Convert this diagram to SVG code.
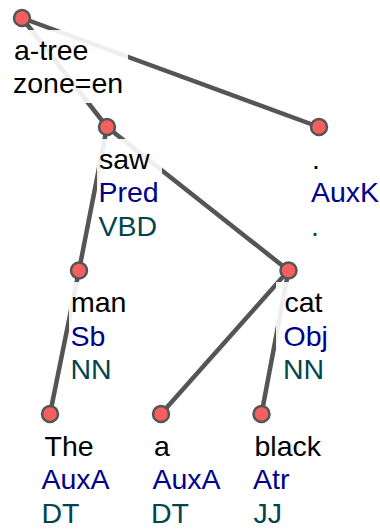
<svg xmlns="http://www.w3.org/2000/svg" width="380" height="529" viewBox="0 0 380 529">
<style>
.e{stroke:#555;stroke-width:4.5;stroke-linecap:round;fill:none}
.bg{fill:#fff;fill-opacity:0.9}
.n{fill:#f65f5f;stroke:#555;stroke-width:2.5}
text{font-family:"Liberation Sans",Arial,sans-serif;font-size:28.5px}
.f{fill:#000}
.a{fill:#00008b}
.t{fill:#00464f}
</style>
<rect width="380" height="529" fill="#fff"/>
<g id="connectors">
<line class="e" x1="22" y1="18" x2="107" y2="127"/>
<line class="e" x1="22" y1="18" x2="319" y2="127"/>
<line class="e" x1="107" y1="127" x2="79" y2="270.5"/>
<line class="e" x1="107" y1="127" x2="288.5" y2="270.5"/>
<line class="e" x1="79" y1="270.5" x2="50" y2="414"/>
<line class="e" x1="288.5" y1="270.5" x2="161" y2="414"/>
<line class="e" x1="288.5" y1="270.5" x2="261.5" y2="414"/>
</g>
<g id="root">
<rect class="bg" x="12" y="30" width="116" height="73"/>
<circle class="n" cx="22" cy="18" r="8"/>
<text x="14" y="59.5" class="f">a-tree</text>
<text x="13" y="93" class="f">zone=en</text>
</g>
<g id="saw">
<rect class="bg" x="97" y="139" width="65" height="106"/>
<circle class="n" cx="107" cy="127" r="8"/>
<text x="99" y="168.5" class="f">saw</text>
<text x="98.5" y="202" class="a">Pred</text>
<text x="98.5" y="235.5" class="t">VBD</text>
</g>
<g id="dot">
<rect class="bg" x="309" y="139" width="70" height="106"/>
<circle class="n" cx="319" cy="127" r="8"/>
<text x="312" y="168.5" class="f">.</text>
<text x="311" y="202" class="a">AuxK</text>
<text x="311" y="235.5" class="t">.</text>
</g>
<g id="man">
<rect class="bg" x="69" y="282" width="62" height="106"/>
<circle class="n" cx="79" cy="270.5" r="8"/>
<text x="71" y="312" class="f">man</text>
<text x="70.5" y="345.5" class="a">Sb</text>
<text x="70.5" y="379" class="t">NN</text>
</g>
<g id="cat">
<rect class="bg" x="276" y="282" width="56" height="106"/>
<circle class="n" cx="288.5" cy="270.5" r="8"/>
<text x="284.5" y="312" class="f">cat</text>
<text x="283.5" y="345.5" class="a">Obj</text>
<text x="283" y="379" class="t">NN</text>
</g>
<g id="The">
<rect class="bg" x="40" y="426" width="72" height="103"/>
<circle class="n" cx="50" cy="414" r="8"/>
<text x="44.5" y="455.5" class="f">The</text>
<text x="41.5" y="489" class="a">AuxA</text>
<text x="41.5" y="522.5" class="t">DT</text>
</g>
<g id="a">
<rect class="bg" x="151" y="426" width="72" height="103"/>
<circle class="n" cx="161" cy="414" r="8"/>
<text x="154" y="455.5" class="f">a</text>
<text x="152.5" y="489" class="a">AuxA</text>
<text x="151" y="522.5" class="t">DT</text>
</g>
<g id="black">
<rect class="bg" x="251" y="426" width="72" height="103"/>
<circle class="n" cx="261.5" cy="414" r="8"/>
<text x="254.5" y="455.5" class="f">black</text>
<text x="253" y="489" class="a">Atr</text>
<text x="253.5" y="522.5" class="t">JJ</text>
</g>
</svg>
